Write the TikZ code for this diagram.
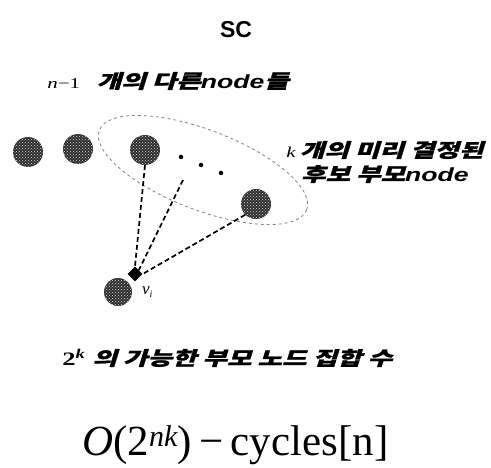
\documentclass[tikz,border=0pt]{standalone}
\usepackage{fontspec}
\setmainfont{Liberation Serif}
\newfontfamily\krfont[FakeSlant=0.22,FakeBold=1.1]{Noto Sans CJK KR}
\newfontfamily\headfont{Liberation Sans}
\usetikzlibrary{patterns,shapes.geometric}
\tikzset{
  ball/.style={circle,minimum size=30pt,inner sep=0pt,fill=gray!35!black,
    postaction={pattern=crosshatch dots,pattern color=white!75!gray}},
  smalldot/.style={circle,fill=black,minimum size=4.5pt,inner sep=0pt},
  link/.style={line width=1.7pt,dash pattern=on 5pt off 3pt},
  ring/.style={draw=gray,dash pattern=on 3pt off 3pt,line width=0.8pt},
  krtext/.style={font=\krfont\bfseries\fontsize{19}{24}\selectfont,inner sep=0pt,xscale=1.4},
}
\begin{document}
\begin{tikzpicture}[x=1pt,y=1pt]
\useasboundingbox (0,0) rectangle (491,-468);

% title
\node (title) at (236,-30) {\headfont\bfseries\fontsize{23}{25}\selectfont SC};

% caption for the other nodes
\node[krtext,anchor=west] (others) at (47,-81)
  {{\rmfamily\mdseries\fontsize{15}{18}\selectfont\itshape n\upshape −1}\hspace{12pt}개의 다른{\headfont\bfseries\itshape node}들};

% candidate region
\node[ring,ellipse,minimum width=222pt,minimum height=80pt,rotate=-21] (cand) at (203,-170) {};

% nodes
\node[ball] (a) at (28,-152) {};
\node[ball] (b) at (78,-149) {};
\node[ball] (c) at (145,-150) {};
\node[ball] (d) at (256,-204) {};
\node[smalldot] (d1) at (181,-157) {};
\node[smalldot] (d2) at (201,-165) {};
\node[smalldot] (d3) at (221,-173) {};
\coordinate (m) at (183,-180);

% target node v_i
\node[ball,minimum size=28pt] (v) at (118,-292) {};
\node[diamond,fill=black,minimum size=15pt,inner sep=0pt] (tip) at (135,-274) {};
\node[anchor=west,inner sep=0pt] (vi) at (142,-292) {\fontsize{17}{18}\selectfont\itshape v\raisebox{-3pt}{\fontsize{10}{10}\selectfont i}};

% links to the target
\draw[link] (c.south) -- (tip.north);
\draw[link] (m) -- (tip.north east);
\draw[link] (d.south west) -- (tip.east);

% candidate caption
\node[krtext,align=center] (kcap) at (385,-162)
  {{\rmfamily\mdseries\fontsize{15}{18}\selectfont\itshape k}\hspace{3pt}개의 미리 결정된\\후보 부모{\headfont\bfseries\itshape node}};

% number of parent sets
\node[krtext,anchor=west] (sets) at (62,-358)
  {{\rmfamily 2\textsuperscript{\itshape k}}\hspace{5pt}의 가능한 부모 노드 집합 수};

% complexity
\node[anchor=west,inner sep=0pt] (cx) at (82,-445)
  {\fontsize{43}{46}\selectfont\itshape O\upshape(2\textsuperscript{\itshape nk})\,−\,cycles[n]};
\end{tikzpicture}
\end{document}
